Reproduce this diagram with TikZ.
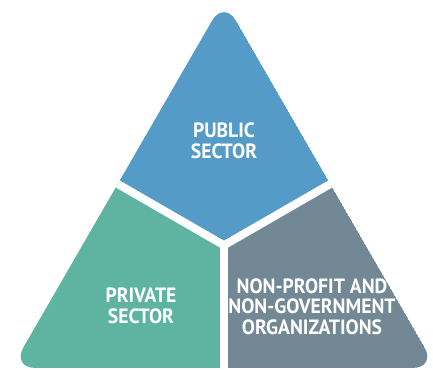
\documentclass[tikz,border=0pt]{standalone}
\usepackage{fontspec}
\newfontfamily\sectorfont{PT Sans}[FakeStretch=0.95]

\definecolor{publicblue}{RGB}{84,155,199}
\definecolor{privategreen}{RGB}{95,179,161}
\definecolor{ngogrey}{RGB}{115,136,149}

\tikzset{every picture/.style={line width=0.75pt}}
\tikzset{
	sectorlabel/.style={anchor=center, inner sep=0pt, align=center, text=white,
		font=\sectorfont\bfseries\fontsize{15.5}{15.5}\selectfont},
	sectorgap/.style={draw=white, line width=6pt}
}

\begin{document}
\begin{tikzpicture}[x=0.75pt,y=0.75pt,yscale=-1,xscale=1]
	\useasboundingbox (0,0) rectangle (433,370);
	
	% corners of the triangle, its centre and the side midpoints
	\coordinate (apex) at (224,0);
	\coordinate (left) at (11.5,368);
	\coordinate (right) at (436.5,368);
	\coordinate (mid) at (224,245.3);
	\coordinate (leftmid) at (117.75,184);
	\coordinate (rightmid) at (330.25,184);
	\coordinate (basemid) at (224,368);
	
	% the three sectors, cut to the rounded outline
	\begin{scope}
		\clip [rounded corners=18] (apex) -- (right) -- (left) -- cycle;
		\fill [publicblue] (apex) -- (rightmid) -- (mid) -- (leftmid) -- cycle;
		\fill [privategreen] (leftmid) -- (mid) -- (basemid) -- (left) -- cycle;
		\fill [ngogrey] (rightmid) -- (right) -- (basemid) -- (mid) -- cycle;
	\end{scope}
	
	% white gaps between sectors
	\draw [sectorgap] (mid) -- (leftmid) ;
	\draw [sectorgap] (mid) -- (rightmid) ;
	\draw [sectorgap] (mid) -- (basemid) ;
	
	% Text Node
	\node [sectorlabel] (public) at (224,140.5) {PUBLIC\\SECTOR};
	% Text Node
	\node [sectorlabel] (private) at (141,305.5) {PRIVATE\\SECTOR};
	% Text Node
	\node [sectorlabel] (ngo) at (312,306.5) {NON-PROFIT AND\\NON-GOVERNMENT\\ORGANIZATIONS};
	
\end{tikzpicture}
\end{document}
